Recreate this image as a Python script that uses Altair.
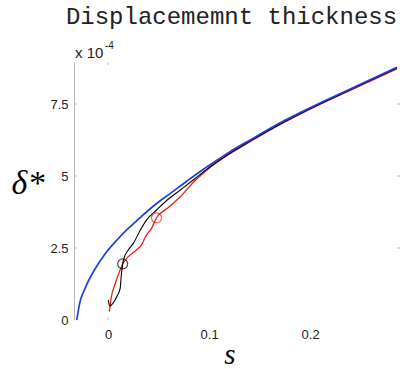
import altair as alt
import pandas as pd

# ---- data (delta* in units of 1e-4) ----
blue_s = [-0.031, -0.0277, -0.024, -0.021, -0.0129, -0.003, 0.0086, 0.020, 0.030, 0.045, 0.061, 0.071, 0.085, 0.101, 0.120, 0.141, 0.170, 0.200, 0.245, 0.286]
blue_d = [0.0, 0.64, 1.00, 1.24, 1.77, 2.29, 2.77, 3.18, 3.50, 3.96, 4.38, 4.64, 5.00, 5.39, 5.83, 6.26, 6.84, 7.37, 8.11, 8.78]

red_s = [0.0013, 0.003, 0.007, 0.011, 0.0145, 0.020, 0.028, 0.033, 0.038, 0.043, 0.048, 0.058, 0.066, 0.071, 0.085, 0.101, 0.120, 0.141, 0.170, 0.200, 0.245, 0.286]
red_d = [0.29, 0.75, 1.25, 1.65, 1.95, 2.20, 2.43, 2.60, 2.95, 3.18, 3.55, 3.86, 4.10, 4.26, 4.80, 5.30, 5.76, 6.20, 6.78, 7.32, 8.06, 8.72]

black_s = [0.0003, 0.0015, 0.0086, 0.012, 0.013, 0.0145, 0.017, 0.020, 0.025, 0.032, 0.038, 0.048, 0.058, 0.068, 0.085, 0.101, 0.120, 0.141, 0.170, 0.200, 0.245, 0.286]
black_d = [0.69, 0.49, 0.81, 1.10, 1.50, 1.95, 2.26, 2.43, 2.66, 3.125, 3.47, 3.82, 4.15, 4.42, 4.88, 5.32, 5.78, 6.22, 6.80, 7.34, 8.08, 8.75]

marker_series = ["black", "red"]
marker_s = [0.0145, 0.048]
marker_d = [1.95, 3.55]

x_ticks = [0, 0.1, 0.2]
y_ticks = [0, 2.5, 5, 7.5]
inner_y_ticks = [2.5, 5, 7.5]
inner_x_ticks = [0]

title_text = "Displacememnt thickness"
x_label = "s"
y_label = "δ*"
exp_base = "x 10"
exp_power = "-4"

# ---- tables ----
def series_df(name, s, d):
    return pd.DataFrame({"s": s, "d": d, "series": name, "i": list(range(len(s)))})

blue_df = series_df("blue", blue_s, blue_d)
red_df = series_df("red", red_s, red_d)
black_df = series_df("black", black_s, black_d)
marker_df = pd.DataFrame({"s": marker_s, "d": marker_d, "series": marker_series})

W, H = 326, 258
xsc = alt.Scale(domain=[-0.0337, 0.289], nice=False, zero=False)
ysc = alt.Scale(domain=[0, 8.96], nice=False, zero=False)

BLUE = "#1f3fdc"
RED = "#e3221b"
BLACK = "#000000"
GRAY = "#b8b8b8"

axis_x = alt.Axis(values=x_ticks, labelExpr="datum.value == 0 ? '0' : format(datum.value, '.1f')",
                  domain=False, ticks=False, grid=False, labelFont="Liberation Sans", labelFontSize=13,
                  labelColor="#222", labelPadding=8, title=None)
axis_y = alt.Axis(values=y_ticks, format=".2~f", domain=True, domainColor=GRAY, domainWidth=1,
                  ticks=False, grid=False, labelFont="Liberation Sans", labelFontSize=13,
                  labelColor="#222", labelPadding=6, title=None)

X = lambda f: alt.X(f, scale=xsc, axis=axis_x)
Y = lambda f: alt.Y(f, scale=ysc, axis=axis_y)

red_line = alt.Chart(red_df).mark_line(color=RED, strokeWidth=1.3, interpolate="monotone").encode(
    x=X("s:Q"), y=Y("d:Q"), order="i:Q")
black_line = alt.Chart(black_df).mark_line(color=BLACK, strokeWidth=1.1, interpolate="monotone").encode(
    x=X("s:Q"), y=Y("d:Q"), order="i:Q")
blue_line = alt.Chart(blue_df).mark_line(color=BLUE, strokeWidth=1.7, interpolate="monotone").encode(
    x=X("s:Q"), y=Y("d:Q"), order="i:Q")
markers = alt.Chart(marker_df).mark_point(shape="circle", filled=False, size=100, strokeWidth=1.2).encode(
    x=X("s:Q"), y=Y("d:Q"),
    color=alt.Color("series:N", scale=alt.Scale(domain=["black", "red"], range=[BLACK, RED]), legend=None),
)

ytick_df = pd.DataFrame({"v": inner_y_ticks})
xtick_df = pd.DataFrame({"v": inner_x_ticks})
left_ticks = alt.Chart(ytick_df).mark_rule(color=GRAY, strokeWidth=1).encode(
    y=Y("v:Q"), x=alt.value(0), x2=alt.value(3))
right_ticks = alt.Chart(ytick_df).mark_rule(color=GRAY, strokeWidth=1).encode(
    y=Y("v:Q"), x=alt.value(W - 3), x2=alt.value(W))
top_ticks = alt.Chart(xtick_df).mark_rule(color=GRAY, strokeWidth=1).encode(
    x=X("v:Q"), y=alt.value(0), y2=alt.value(3))
bottom_ticks = alt.Chart(xtick_df).mark_rule(color=GRAY, strokeWidth=1).encode(
    x=X("v:Q"), y=alt.value(H - 3), y2=alt.value(H))

one = pd.DataFrame({"k": [0]})
title_mark = alt.Chart(one).mark_text(text=title_text, font="Liberation Mono", fontSize=24,
                                      align="center", baseline="alphabetic", color="#222").encode(
    x=alt.value(157.5), y=alt.value(-38))
exp_mark = alt.Chart(one).mark_text(text=exp_base, font="Liberation Sans", fontSize=15,
                                    align="left", baseline="alphabetic", color="#222").encode(
    x=alt.value(1), y=alt.value(-4))
pow_mark = alt.Chart(one).mark_text(text=exp_power, font="Liberation Sans", fontSize=10,
                                    align="left", baseline="alphabetic", color="#222").encode(
    x=alt.value(31), y=alt.value(-13))
ylab_mark = alt.Chart(one).mark_text(text=y_label, font="Liberation Serif", fontSize=34, fontStyle="italic",
                                     align="center", baseline="middle", color="#000").encode(
    x=alt.value(-46), y=alt.value(122))
xlab_mark = alt.Chart(one).mark_text(text=x_label, font="Liberation Serif", fontSize=29, fontStyle="italic",
                                     align="center", baseline="middle", color="#000").encode(
    x=alt.value(156), y=alt.value(293))

chart = alt.layer(
    red_line, black_line, blue_line, markers,
    left_ticks, right_ticks, top_ticks, bottom_ticks,
    title_mark, exp_mark, pow_mark, ylab_mark, xlab_mark,
).properties(
    width=W, height=H,
    autosize=alt.AutoSizeParams(type="none"),
    padding={"left": 74, "top": 62, "right": 6, "bottom": 49},
    background="white",
).configure_view(stroke=None)

chart.save("out.html", embed_options={"renderer": "svg", "actions": False})
